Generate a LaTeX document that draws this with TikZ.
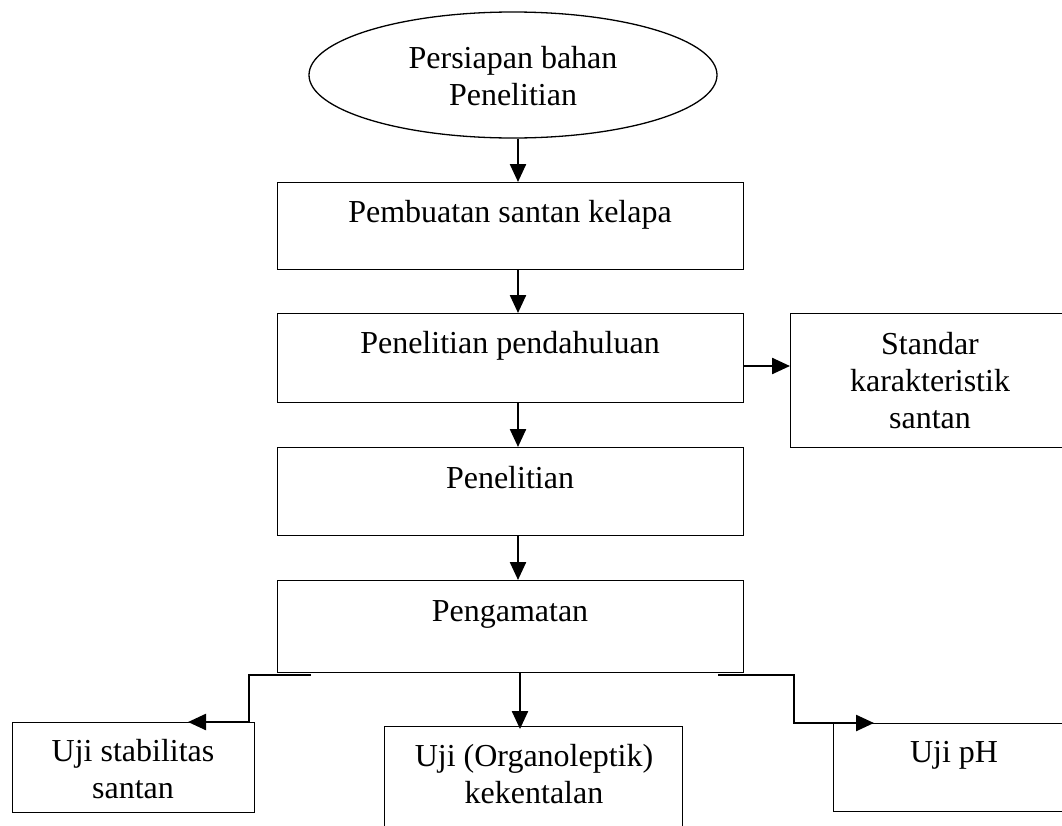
\documentclass[tikz,border=0pt]{standalone}
\usepackage{fontspec}
\setmainfont{Liberation Serif}
\usetikzlibrary{arrows.meta,shapes.geometric}
\begin{document}
\begin{tikzpicture}[x=1pt,y=-1pt,
  box/.style={draw,line width=1.3pt,rectangle,inner sep=0pt,anchor=north west},
  txt/.style={font=\fontsize{32}{37}\selectfont,align=center,anchor=base,inner sep=0pt},
  arr/.style={line width=2.4pt,-{Triangle[length=18pt,width=16pt]}}]
\useasboundingbox (0,0) rectangle (1062,825);
\clip (0,0) rectangle (1062,825);
\fill[white] (0,0) rectangle (1062,825);
% shapes
\node[draw,ellipse,line width=1.3pt,minimum width=408pt,minimum height=126pt,inner sep=0pt] (ell) at (513,75) {};
\node[box,minimum width=466pt,minimum height=87pt] (b1) at (277,182) {};
\node[box,minimum width=466pt,minimum height=89pt] (b2) at (277,313) {};
\node[box,minimum width=466pt,minimum height=88pt] (b3) at (277,447) {};
\node[box,minimum width=466pt,minimum height=92pt] (b4) at (277,580) {};
\node[box,minimum width=280pt,minimum height=134pt] (std) at (790,313) {};
\node[box,minimum width=242pt,minimum height=90pt] (us) at (12,722) {};
\node[box,minimum width=298pt,minimum height=120pt] (uo) at (384,726) {};
\node[box,minimum width=240pt,minimum height=88pt] (up) at (833,723) {};
% texts (base anchor = baseline of the last line)
\node[txt] (t0) at (513,105) {Persiapan bahan\\Penelitian};
\node[txt] (t1) at (510,222) {Pembuatan santan kelapa};
\node[txt] (t2) at (510,353) {Penelitian pendahuluan};
\node[txt] (t3) at (510,488) {Penelitian};
\node[txt] (t4) at (510,621) {Pengamatan};
\node[txt] (t5) at (930,428) {Standar\\karakteristik\\santan};
\node[txt] (t6) at (133,798) {Uji stabilitas\\santan};
\node[txt] (t7) at (534,803) {Uji (Organoleptik)\\kekentalan};
\node[txt] (t8) at (954,762) {Uji pH};
% connectors
\coordinate (ax) at (518,0);
\coordinate (ay) at (0,366);
\coordinate (mx) at (520,0);
\draw[arr] (ell.south -| ax) -- (b1.north -| ax);
\draw[arr] (b1.south -| ax) -- (b2.north -| ax);
\draw[arr] (b2.south -| ax) -- (b3.north -| ax);
\draw[arr] (b3.south -| ax) -- (b4.north -| ax);
\draw[arr] (b2.east |- ay) -- (std.west |- ay);
\draw[arr] (b4.south -| mx) -- ([yshift=-3pt]uo.north -| mx);
\coordinate (lstart) at (311,675);
\coordinate (lv) at (249,0);
\coordinate (ltip) at (188,722);
\draw[arr] (lstart) -| (lv |- ltip) -- (ltip);
\coordinate (rstart) at (718,675);
\coordinate (rv) at (794,0);
\coordinate (rtip) at (874,723);
\draw[arr] (rstart) -| (rv |- rtip) -- (rtip);
\end{tikzpicture}
\end{document}
